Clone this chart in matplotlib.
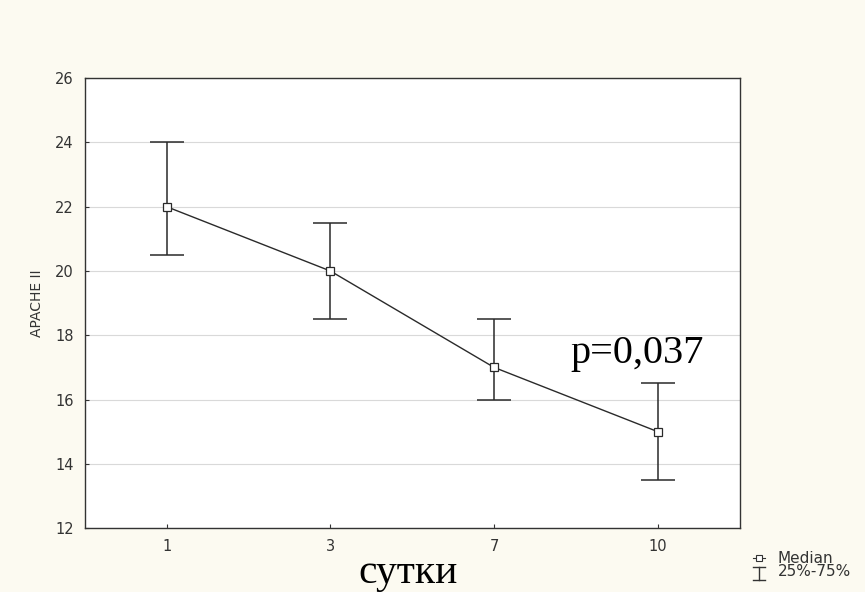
import matplotlib
matplotlib.use('Agg')
import matplotlib.pyplot as plt
from matplotlib.lines import Line2D

days = ['1', '3', '7', '10']
median = [22, 20, 17, 15]
q25 = [20.5, 18.5, 16, 13.5]
q75 = [24, 21.5, 18.5, 16.5]

plt.rcParams['font.family'] = ['DejaVu Sans']

bg = '#fcfaf1'
ink = '#2a2a2a'
fig = plt.figure(figsize=(8.65, 5.92), dpi=100, facecolor=bg)
ax = fig.add_axes([0.098, 0.108, 0.757, 0.76])
ax.set_facecolor('white')

x = list(range(len(days)))
lower = [m - q for m, q in zip(median, q25)]
upper = [q - m for m, q in zip(median, q75)]

ax.plot(x, median, color=ink, lw=1, zorder=3)
ax.errorbar(x, median, yerr=[lower, upper], fmt='none', ecolor=ink,
            elinewidth=1.1, capsize=12, capthick=1.1, zorder=3)
ax.plot(x, median, ls='none', marker='s', ms=6, mfc='white', mec=ink,
        mew=0.9, zorder=4)

ax.set_xlim(-0.5, 3.5)
ax.set_ylim(12, 26)
ax.set_yticks(range(12, 27, 2))
ax.set_xticks(x)
ax.set_xticklabels(days)
ax.yaxis.grid(True, color='#d9d9d9', lw=0.8)
ax.set_axisbelow(True)
for s in ax.spines.values():
    s.set_color('#333333')
    s.set_linewidth(1)
ax.tick_params(axis='both', labelsize=10.5, length=3, direction='in',
               colors='#333333', pad=8)

ax.set_ylabel('APACHE II', fontsize=10, color='#333333', labelpad=8)

fig.text(0.472, 0.015, 'сутки', fontsize=30, family='Liberation Serif',
         ha='center', va='baseline')
ax.text(2.467, 17.15, 'p=0,037', fontsize=29, family='Liberation Serif')

# legend, drawn by hand at the bottom right
fig.text(0.899, 0.0574, 'Median', fontsize=11, color='#333333', va='center')
fig.text(0.899, 0.0338, '25%-75%', fontsize=11, color='#333333', va='center')
fig.add_artist(Line2D([0.8705, 0.8844], [0.0574, 0.0574], color='#333333', lw=0.8,
                      transform=fig.transFigure))
fig.add_artist(Line2D([0.8775], [0.0574], ls='none', marker='s', ms=4.5,
                      mfc='white', mec='#333333', mew=0.8,
                      transform=fig.transFigure))
fig.add_artist(Line2D([0.8775, 0.8775], [0.0203, 0.0422], color='#333333', lw=1,
                      transform=fig.transFigure))
for yy in (0.0203, 0.0422):
    fig.add_artist(Line2D([0.871, 0.884], [yy, yy], color='#333333', lw=1,
                          transform=fig.transFigure))

fig.savefig('out.png', dpi=100, facecolor=bg)
